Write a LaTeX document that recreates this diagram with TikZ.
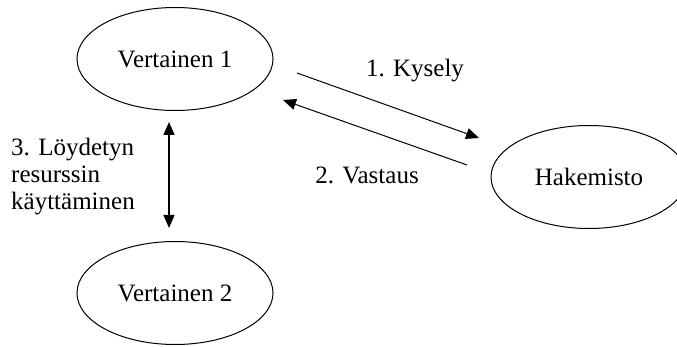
\documentclass[tikz,border=0pt]{standalone}
\usepackage{fontspec}
\setmainfont{Liberation Serif}
\usetikzlibrary{shapes.geometric,arrows.meta}
\begin{document}
\begin{tikzpicture}[x=1pt,y=-1pt,
  peer/.style={ellipse,draw,line width=1pt,inner sep=0pt,minimum width=196pt,minimum height=103pt,font=\fontsize{25}{27}\selectfont},
  lbl/.style={inner sep=0pt,font=\fontsize{25}{27}\selectfont},
  arr/.style={line width=1pt,-{Triangle[length=13pt,width=11pt]}},
  darr/.style={line width=1.4pt,{Triangle[length=13pt,width=11pt]}-{Triangle[length=13pt,width=11pt]}}]
\useasboundingbox (0,0) rectangle (677,347);
\fill[white] (0,0) rectangle (677,347);
\node[peer] (v1) at (175,59) {Vertainen 1};
\node[peer] (v2) at (175,293) {Vertainen 2};
\node[peer] (hak) at (589,177) {Hakemisto};
\coordinate (k1) at (297,73);
\coordinate (k2) at (479,138);
\coordinate (s1) at (467,165);
\coordinate (s2) at (283,100);
\coordinate (d1) at (169,122);
\coordinate (d2) at (169,228);
\draw[arr] (k1) -- (k2);
\draw[arr] (s1) -- (s2);
\draw[darr] (d1) -- (d2);
\node[lbl] (lk) at (415,71) {1. Kysely};
\node[lbl] (lv) at (367,175) {2. Vastaus};
\node[lbl,align=left,anchor=west] (l3) at (11,177) {3. Löydetyn\\resurssin\\käyttäminen};
\end{tikzpicture}
\end{document}
